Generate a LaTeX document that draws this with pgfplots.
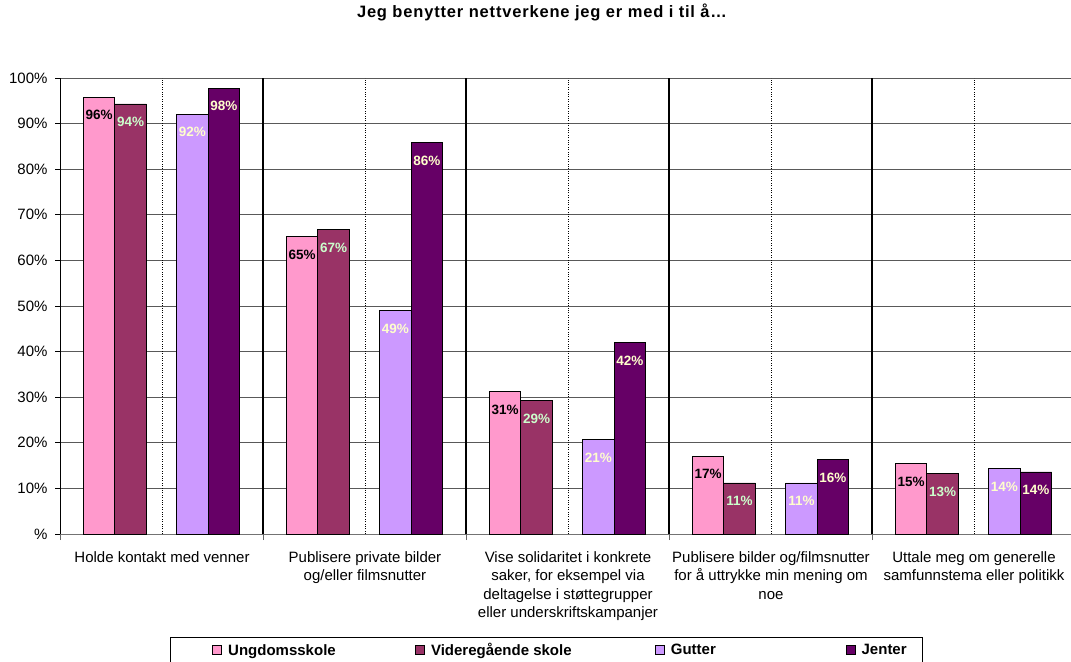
\documentclass[border=0pt]{standalone}
\usepackage{fontspec}
\setmainfont{Liberation Sans}
\newfontfamily\titlefont[LetterSpace=5]{Liberation Sans}
\usepackage{pgfplots}
\pgfplotsset{compat=1.18}

\definecolor{cUng}{HTML}{FF99CC}
\definecolor{cVid}{HTML}{993366}
\definecolor{cGut}{HTML}{CC99FF}
\definecolor{cJen}{HTML}{660066}
\definecolor{lblGreen}{HTML}{CCFFCC}
\definecolor{lblYellow}{HTML}{FFFFCC}

\begin{document}
\begin{tikzpicture}
\begin{axis}[
  name=ax,
  scale only axis,
  width=1010.5pt, height=456pt,
  xmin=0, xmax=4.978, ymin=0, ymax=100,
  axis x line=bottom, axis y line=left,
  axis line style={-},
  x axis line style={draw=black!55},
  y axis line style={draw=black, line width=0.8pt},
  ymajorgrids,
  grid style={draw=black!65, line width=0.8pt},
  tick align=outside,
  ytick={0,10,...,100},
  yticklabels={\%,10\%,20\%,30\%,40\%,50\%,60\%,70\%,80\%,90\%,100\%},
  major tick length=5.5pt,
  y tick style={black, line width=0.8pt},
  xtick={0.5,1.5,2.5,3.5,4.5},
  x tick style={draw=none},
  xticklabels={
    Holde kontakt med venner,
    {Publisere private bilder\\og/eller filmsnutter},
    {Vise solidaritet i konkrete\\saker, for eksempel via\\deltagelse i støttegrupper\\eller underskriftskampanjer},
    {Publisere bilder og/filmsnutter\\for å uttrykke min mening om\\noe},
    {Uttale meg om generelle\\samfunnstema eller politikk}},
  xticklabel style={align=center, anchor=north, yshift=-8.5pt,
    font=\fontsize{15}{18.3}\selectfont},
  yticklabel style={font=\fontsize{15}{18}\selectfont, xshift=-4pt},
  extra x ticks={0,1,2,3,4},
  extra x tick labels={},
  extra x tick style={x tick style={draw=black!60, line width=0.8pt}, major tick length=6pt},
  legend columns=4,
  legend style={at={(axis description cs:0.1084,-0.2259)}, anchor=north west,
    draw=black, line width=0.8pt, inner xsep=13pt, inner ysep=4pt,
    font=\bfseries\fontsize{15}{18}\selectfont,
    /tikz/every even column/.append style={column sep=0pt}},
  legend image code/.code={\path (13pt,0pt); \draw[#1, draw=black, line width=0.8pt] (0pt,-4.5pt) rectangle (9pt,4.5pt);},
  nodes near coords={\pgfmathprintnumber[fixed,precision=0,assume math mode=true]{\pgfplotspointmeta}\%},
  every node near coord/.append style={anchor=north, inner sep=0pt, yshift=-13pt,
    font=\bfseries\fontsize{13.5}{14}\selectfont},
]
% group separators and middle dotted lines
\draw[black, line width=2pt] (axis cs:1,0) -- (axis cs:1,100);
\draw[black, line width=2pt] (axis cs:2,0) -- (axis cs:2,100);
\draw[black, line width=2pt] (axis cs:3,0) -- (axis cs:3,100);
\draw[black, line width=2pt] (axis cs:4,0) -- (axis cs:4,100);
\foreach \g in {0.5,1.5,2.5,3.5,4.5}{
  \edef\tmp{\noexpand\draw[black, line width=0.7pt, dash pattern=on 0.8pt off 1.6pt] (axis cs:\g,0) -- (axis cs:\g,100);}\tmp
}

\addplot[ybar, bar width=0.155, bar shift=0pt, fill=cUng, draw=black, line width=0.8pt,
  every node near coord/.append style={text=black},
  legend image code/.code={\path (-29pt,0pt) (13pt,0pt); \draw[##1, draw=black, line width=0.8pt] (0pt,-4.5pt) rectangle (9pt,4.5pt);}]
  coordinates {(0.19,95.8) (1.19,65.3) (2.19,31.2) (3.19,17.1) (4.19,15.4)};
\addplot[ybar, bar width=0.155, bar shift=0pt, fill=cVid, draw=black, line width=0.8pt,
  every node near coord/.append style={text=lblGreen}]
  coordinates {(0.345,94.3) (1.345,66.8) (2.345,29.2) (3.345,11.2) (4.345,13.2)};
\addplot[ybar, bar width=0.155, bar shift=0pt, fill=cGut, draw=black, line width=0.8pt,
  every node near coord/.append style={text=lblYellow}]
  coordinates {(0.65,92.1) (1.65,49.0) (2.65,20.7) (3.65,11.2) (4.65,14.4)};
\addplot[ybar, bar width=0.155, bar shift=0pt, fill=cJen, draw=black, line width=0.8pt,
  every node near coord/.append style={text=lblYellow}]
  coordinates {(0.805,97.8) (1.805,85.9) (2.805,42.0) (3.805,16.3) (4.805,13.6)};

\legend{\makebox[185pt][l]{Ungdomsskole},\makebox[222pt][l]{Videregående skole},\makebox[173pt][l]{Gutter},\makebox[46pt][l]{Jenter}}
\end{axis}
\node[font=\titlefont\bfseries\fontsize{16.5}{18}\selectfont, anchor=base] at ([xshift=481.5pt, yshift=60pt]ax.north west) {Jeg benytter nettverkene jeg er med i til å…};
\pgfresetboundingbox
\path ([xshift=-60.5pt, yshift=-127pt]ax.south west) rectangle ([yshift=78pt]ax.north east);
\end{tikzpicture}
\end{document}
